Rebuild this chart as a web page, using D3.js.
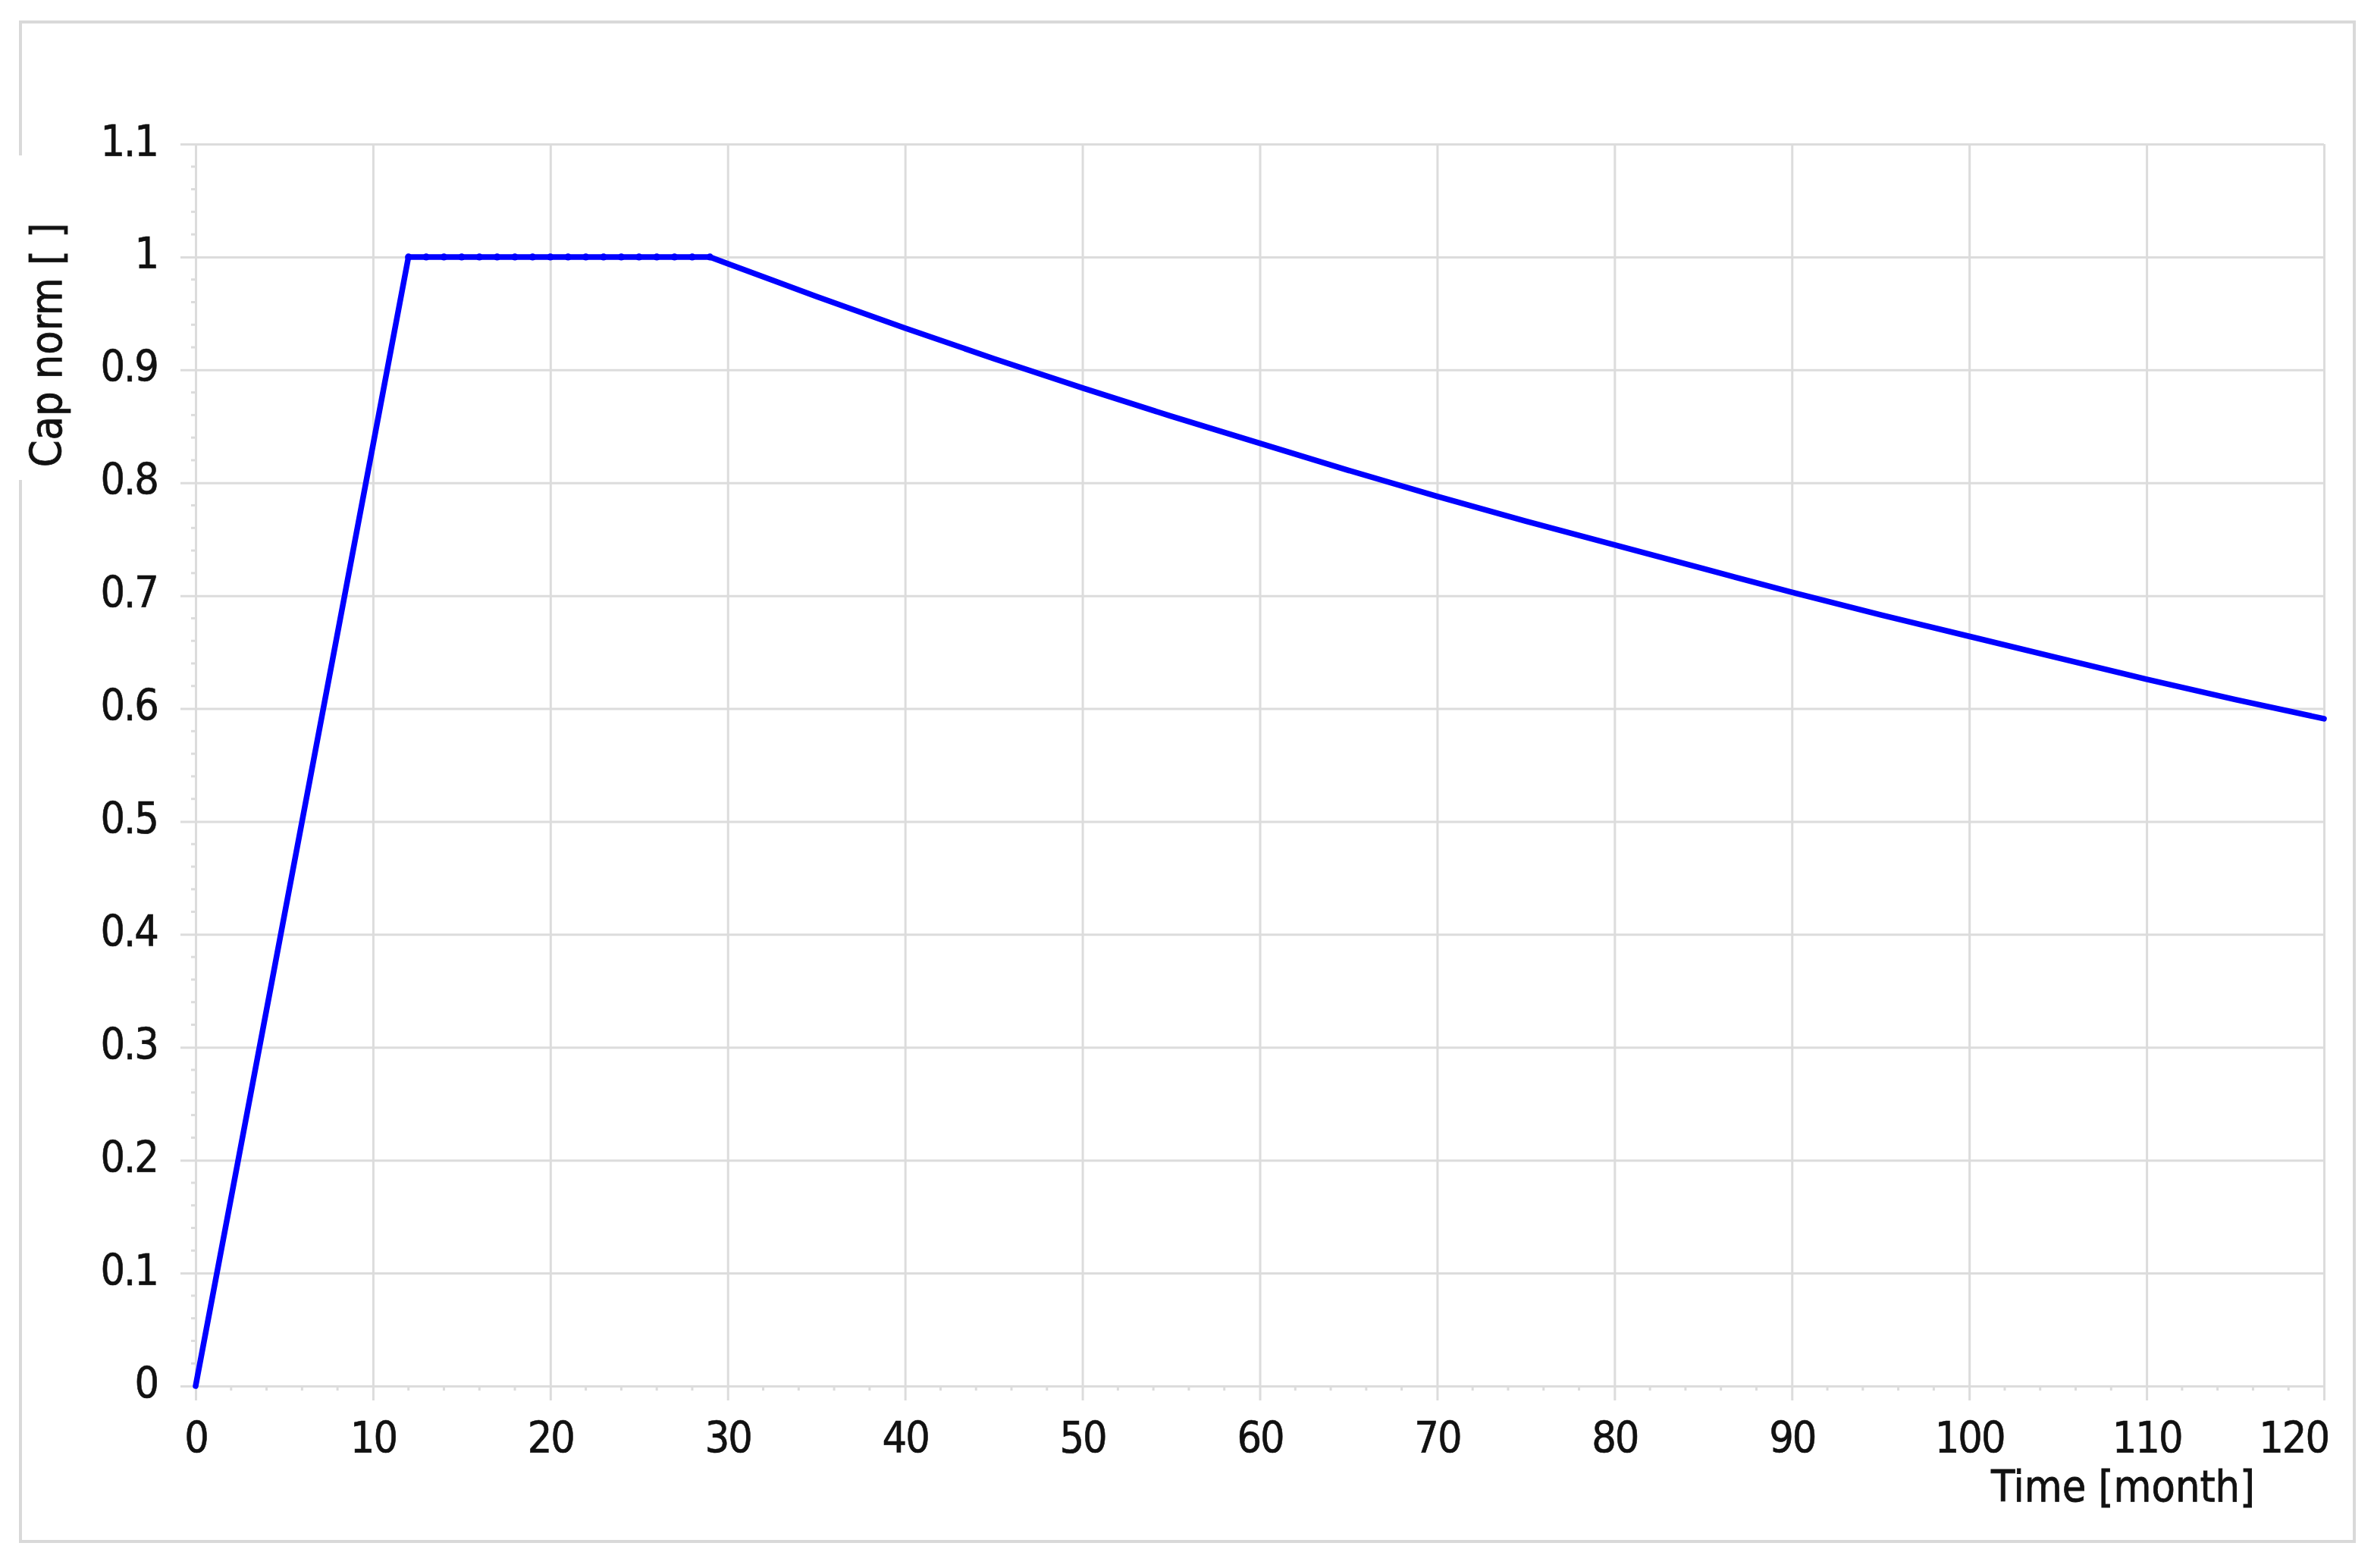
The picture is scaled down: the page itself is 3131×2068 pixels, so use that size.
<!DOCTYPE html>
<html>
<head>
<meta charset="utf-8">
<script src="https://cdn.jsdelivr.net/npm/d3@7"></script>
<style>
  html, body { margin: 0; padding: 0; background: #ffffff; }
  svg { display: block; }
  text { font-family: "DejaVu Sans Condensed", "DejaVu Sans", sans-serif; font-stretch: condensed; }
</style>
</head>
<body>
<script>
// ---- data ----
const months  = [0, 12, 13, 14, 15, 16, 17, 18, 19, 20, 21, 22, 23, 24, 25, 26, 27, 28, 29,
                 30, 35, 40, 45, 50, 55, 60, 65, 70, 75, 80, 85, 90, 95, 100, 105, 110, 115, 120];
const capNorm = [0, 1, 1, 1, 1, 1, 1, 1, 1, 1, 1, 1, 1, 1, 1, 1, 1, 1, 1,
                 0.994, 0.965, 0.937, 0.910, 0.884, 0.859, 0.835, 0.811, 0.788, 0.766, 0.745,
                 0.724, 0.703, 0.683, 0.664, 0.645, 0.626, 0.608, 0.591];
const xTickValues = [0, 10, 20, 30, 40, 50, 60, 70, 80, 90, 100, 110, 120];
const xTickLabels = ["0", "10", "20", "30", "40", "50", "60", "70", "80", "90", "100", "110", "120"];
const yTickValues = [0, 0.1, 0.2, 0.3, 0.4, 0.5, 0.6, 0.7, 0.8, 0.9, 1, 1.1];
const yTickLabels = ["0", "0.1", "0.2", "0.3", "0.4", "0.5", "0.6", "0.7", "0.8", "0.9", "1", "1.1"];
const xMinorStep = 2;
const yMinorStep = 0.02;
const xTitle = "Time [month]";
const yTitle = "Cap norm [ ]";

// ---- layout ----
const W = 3131, H = 2068;
const plot = { left: 258, right: 3065, top: 190, bottom: 1828 };
const gridColor = "#dcdcdc";
const textColor = "#111111";
const fontSize = 57;

const x = d3.scaleLinear().domain([0, 120]).range([plot.left, plot.right]);
const y = d3.scaleLinear().domain([0, 1.1]).range([plot.bottom, plot.top]);

const svg = d3.select("body").append("svg")
  .attr("width", W).attr("height", H)
  .style("background", "#ffffff");

// outer frame
svg.append("rect")
  .attr("x", 27).attr("y", 29).attr("width", 3078).attr("height", 2004)
  .attr("fill", "none").attr("stroke", "#d9d9d9").attr("stroke-width", 4);

// minor ticks
const xMinor = d3.range(0, 120 + 1e-9, xMinorStep).filter(v => v % 10 !== 0);
svg.append("g").selectAll("line").data(xMinor).join("line")
  .attr("x1", d => x(d)).attr("x2", d => x(d))
  .attr("y1", plot.bottom).attr("y2", plot.bottom + 6)
  .attr("stroke", gridColor).attr("stroke-width", 3);
const yMinor = d3.range(0, 1.1 + 1e-9, yMinorStep)
  .filter(v => Math.abs(v * 10 - Math.round(v * 10)) > 1e-6);
svg.append("g").selectAll("line").data(yMinor).join("line")
  .attr("x1", plot.left - 6).attr("x2", plot.left)
  .attr("y1", d => y(d)).attr("y2", d => y(d))
  .attr("stroke", gridColor).attr("stroke-width", 3);

// x axis with grid
const xAxis = d3.axisBottom(x)
  .tickValues(xTickValues)
  .tickFormat((d, i) => xTickLabels[i])
  .tickSize(-(plot.bottom - plot.top))
  .tickSizeOuter(0);
const gx = svg.append("g").attr("transform", `translate(0,${plot.bottom})`).call(xAxis);
gx.select(".domain").remove();
gx.selectAll(".tick line").attr("y1", 19).attr("stroke", gridColor).attr("stroke-width", 3);
gx.selectAll(".tick text")
  .attr("y", 88).attr("dy", 0)
  .attr("fill", textColor).attr("stroke", textColor).attr("stroke-width", 0.6)
  .style("font-size", fontSize + "px").attr("letter-spacing", -2);

// y axis with grid
const yAxis = d3.axisLeft(y)
  .tickValues(yTickValues)
  .tickFormat((d, i) => yTickLabels[i])
  .tickSize(-(plot.right - plot.left))
  .tickSizeOuter(0);
const gy = svg.append("g").attr("transform", `translate(${plot.left},0)`).call(yAxis);
gy.select(".domain").remove();
gy.selectAll(".tick line").attr("x1", -20).attr("stroke", gridColor).attr("stroke-width", 3);
gy.selectAll(".tick text")
  .attr("x", -50).attr("dy", 0).attr("y", 15)
  .attr("fill", textColor).attr("stroke", textColor).attr("stroke-width", 0.6)
  .style("font-size", fontSize + "px").attr("letter-spacing", -2);

// keep last x label inside the frame
gx.selectAll(".tick text").each(function () {
  const b = this.getBBox();
  const tr = this.parentNode.transform.baseVal.consolidate().matrix.e;
  const right = tr + b.x + b.width;
  if (right > plot.right + 6) {
    d3.select(this).attr("x", plot.right + 6 - right);
  }
});

// data line
const pts = months.map((m, i) => ({ m, v: capNorm[i] }));
const line = d3.line().x(d => x(d.m)).y(d => y(d.v));
svg.append("path").datum(pts)
  .attr("d", line)
  .attr("fill", "none").attr("stroke", "#0000ff")
  .attr("stroke-width", 7.5).attr("stroke-linejoin", "round").attr("stroke-linecap", "round");
svg.append("g").selectAll("circle").data(pts.filter(d => d.v === 1)).join("circle")
  .attr("cx", d => x(d.m)).attr("cy", d => y(d.v)).attr("r", 4.6)
  .attr("fill", "#0000ff");

// axis titles
svg.append("rect").attr("x", 15).attr("y", 205).attr("width", 90).attr("height", 428).attr("fill", "#ffffff");
svg.append("text")
  .attr("transform", "translate(81,455) rotate(-90)")
  .attr("text-anchor", "middle")
  .attr("fill", textColor).attr("stroke", textColor).attr("stroke-width", 0.8)
  .style("font-size", fontSize + "px")
  .text(yTitle);
svg.append("text")
  .attr("x", 2800).attr("y", 1980)
  .attr("text-anchor", "middle")
  .attr("fill", textColor).attr("stroke", textColor).attr("stroke-width", 0.8)
  .style("font-size", fontSize + "px")
  .text(xTitle);
</script>
</body>
</html>
